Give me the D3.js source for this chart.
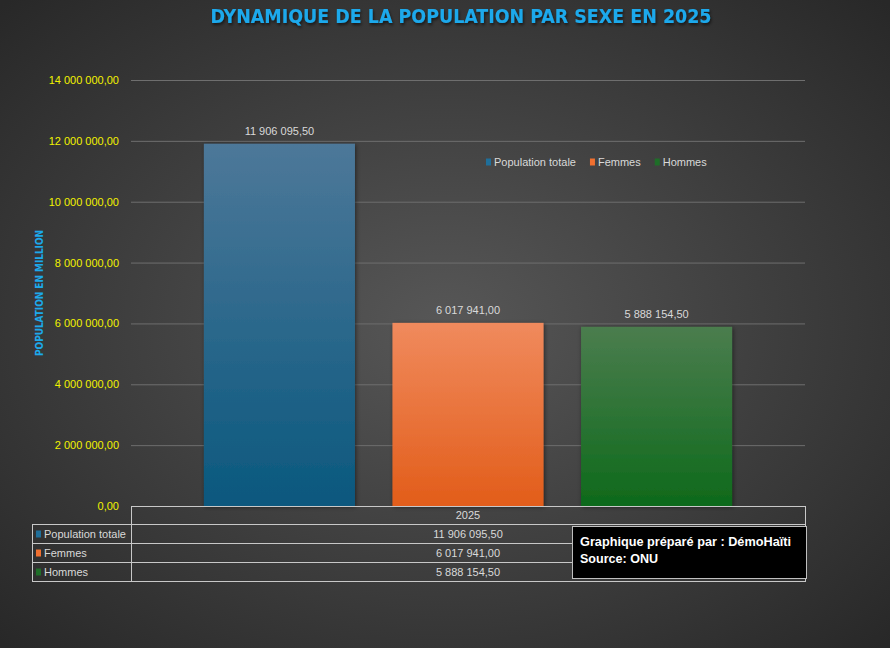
<!DOCTYPE html>
<html><head><meta charset="utf-8">
<script src="https://cdn.jsdelivr.net/npm/d3@7"></script>
<style>html,body{margin:0;padding:0;background:#333;}svg{display:block;}</style>
</head><body>
<svg id="c" width="890" height="648"></svg>
<script>
const categories = ["2025"];
const seriesNames = ["Population totale", "Femmes", "Hommes"];
const seriesValues = [11906095.50, 6017941.00, 5888154.50];
const yTicks = [0, 2000000, 4000000, 6000000, 8000000, 10000000, 12000000, 14000000];
const seriesTop = ["#4d7899", "#f08a5d", "#4b7d4e"];
const seriesBottom = ["#0a587e", "#e25d1a", "#0e6a1b"];
const seriesLegend = ["#1f6f9a", "#f07030", "#1e6e28"];

const FONT = "'Liberation Sans Narrow','Liberation Sans',Arial,sans-serif";
const TFONT = "'DejaVu Sans Condensed','DejaVu Sans',sans-serif";
const fmt = v => {
  const s = v.toFixed(2).split(".");
  return s[0].replace(/\B(?=(\d{3})+(?!\d))/g, " ") + "," + s[1];
};

const svg = d3.select("#c");
const defs = svg.append("defs");
const bg = defs.append("radialGradient").attr("id","bg").attr("cx","50%").attr("cy","50%").attr("r","70%");
bg.append("stop").attr("offset","0%").attr("stop-color","#575757");
bg.append("stop").attr("offset","100%").attr("stop-color","#282828");
svg.append("rect").attr("width",890).attr("height",648).attr("fill","url(#bg)");

const sh = defs.append("filter").attr("id","sh").attr("x","-20%").attr("y","-20%").attr("width","140%").attr("height","140%");
sh.append("feDropShadow").attr("dx",1).attr("dy",1).attr("stdDeviation",2).attr("flood-color","#000").attr("flood-opacity",0.5);
const tsh = defs.append("filter").attr("id","tsh");
tsh.append("feDropShadow").attr("dx",1).attr("dy",2).attr("stdDeviation",1.5).attr("flood-color","#000").attr("flood-opacity",0.6);

seriesNames.forEach((n,i)=>{
  const g = defs.append("linearGradient").attr("id","g"+i).attr("x1",0).attr("y1",0).attr("x2",0).attr("y2",1);
  g.append("stop").attr("offset","0%").attr("stop-color",seriesTop[i]);
  g.append("stop").attr("offset","100%").attr("stop-color",seriesBottom[i]);
});

const L = 131, R = 805, T = 80, B = 506;
const y = d3.scaleLinear().domain([0,14000000]).range([B,T]);
const x0 = d3.scaleBand().domain(categories).range([L,R]).paddingInner(0).paddingOuter(0.138);
const x1 = d3.scaleBand().domain(seriesNames).range([0,x0.bandwidth()]).paddingInner(0.199);

// title
svg.append("text").attr("x",461).attr("y",23).attr("text-anchor","middle")
  .attr("font-family",TFONT).attr("font-weight","bold").attr("font-size",19)
  .attr("textLength",501).attr("lengthAdjust","spacingAndGlyphs")
  .attr("fill","#1ca9ec").attr("filter","url(#tsh)").text("DYNAMIQUE DE LA POPULATION PAR SEXE EN 2025");

// grid + y ticks
const yAxis = d3.axisLeft(y).tickValues(yTicks).tickSize(-(R-L)).tickFormat(fmt).tickPadding(12);
const ga = svg.append("g").attr("transform",`translate(${L},0)`).call(yAxis);
ga.select(".domain").remove();
ga.selectAll(".tick line").attr("stroke","#6e6e6e").attr("stroke-width",1);
ga.selectAll(".tick").filter(d=>d===0).select("line").remove();
ga.selectAll(".tick text").attr("fill","#f2f200").attr("font-family",FONT).attr("font-size",11);

// y axis title
svg.append("text").attr("transform","translate(43,293) rotate(-90)").attr("text-anchor","middle")
  .attr("font-family",TFONT).attr("font-weight","bold").attr("font-size",11).attr("fill","#1ca9ec")
  .attr("textLength",126).attr("lengthAdjust","spacingAndGlyphs")
  .text("POPULATION EN MILLION");

// bars
const gb = svg.append("g").attr("transform",`translate(${x0(categories[0])},0)`);
gb.selectAll("rect").data(seriesValues).join("rect")
  .attr("x",(d,i)=>x1(seriesNames[i])).attr("width",x1.bandwidth())
  .attr("y",d=>y(d)).attr("height",d=>B-y(d))
  .attr("fill",(d,i)=>`url(#g${i})`).attr("filter","url(#sh)");
gb.selectAll("text.lbl").data(seriesValues).join("text").attr("class","lbl")
  .attr("x",(d,i)=>x1(seriesNames[i])+x1.bandwidth()/2).attr("y",d=>y(d)-9)
  .attr("text-anchor","middle").attr("font-family",FONT).attr("font-size",11).attr("fill","#d9d9d9")
  .text(d=>fmt(d));

// legend
const lg = svg.append("g").attr("transform","translate(486,162)");
let lx = 0;
seriesNames.forEach((n,i)=>{
  lg.append("rect").attr("x",lx).attr("y",-3.5).attr("width",5).attr("height",7).attr("fill",seriesLegend[i]);
  const t = lg.append("text").attr("x",lx+8).attr("y",4).attr("font-family",FONT).attr("font-size",11).attr("fill","#d9d9d9").text(n);
  lx += 8 + t.node().getComputedTextLength() + 14;
});

// data table
const tc = "#c8c8c8";
const rowH = 19, hdrTop = 506, hdrBot = 524, tL = 32;
const tb = svg.append("g").attr("fill","none").attr("stroke",tc).attr("stroke-width",1);
tb.append("rect").attr("x",L+0.5).attr("y",hdrTop+0.5).attr("width",R-L).attr("height",hdrBot-hdrTop);
seriesNames.forEach((n,i)=>{
  tb.append("rect").attr("x",tL+0.5).attr("y",hdrBot+i*rowH+0.5).attr("width",L-tL).attr("height",rowH);
  tb.append("rect").attr("x",L+0.5).attr("y",hdrBot+i*rowH+0.5).attr("width",R-L).attr("height",rowH);
});
svg.append("text").attr("x",(L+R)/2).attr("y",hdrTop+13).attr("text-anchor","middle")
  .attr("font-family",FONT).attr("font-size",11).attr("fill","#d9d9d9").text(categories[0]);
seriesNames.forEach((n,i)=>{
  const cy = hdrBot+i*rowH+rowH/2;
  svg.append("rect").attr("x",tL+4).attr("y",cy-3).attr("width",5).attr("height",7).attr("fill",seriesLegend[i]);
  svg.append("text").attr("x",tL+12).attr("y",cy+4.5).attr("font-family",FONT).attr("font-size",11).attr("fill","#d9d9d9").text(n);
  svg.append("text").attr("x",(L+R)/2).attr("y",cy+4.5).attr("text-anchor","middle").attr("font-family",FONT).attr("font-size",11).attr("fill","#d9d9d9").text(fmt(seriesValues[i]));
});

// note box
svg.append("rect").attr("x",572.5).attr("y",526.5).attr("width",234).attr("height",52).attr("fill","#000").attr("stroke","#bfbfbf");
svg.append("text").attr("x",580).attr("y",546).attr("font-family",FONT).attr("font-weight","bold").attr("font-size",13).attr("fill","#fff")
  .attr("textLength",211).attr("lengthAdjust","spacingAndGlyphs").text("Graphique préparé par : DémoHaïti");
svg.append("text").attr("x",580).attr("y",563).attr("font-family",FONT).attr("font-weight","bold").attr("font-size",13).attr("fill","#fff")
  .attr("textLength",78).attr("lengthAdjust","spacingAndGlyphs").text("Source: ONU");
</script>
</body></html>
